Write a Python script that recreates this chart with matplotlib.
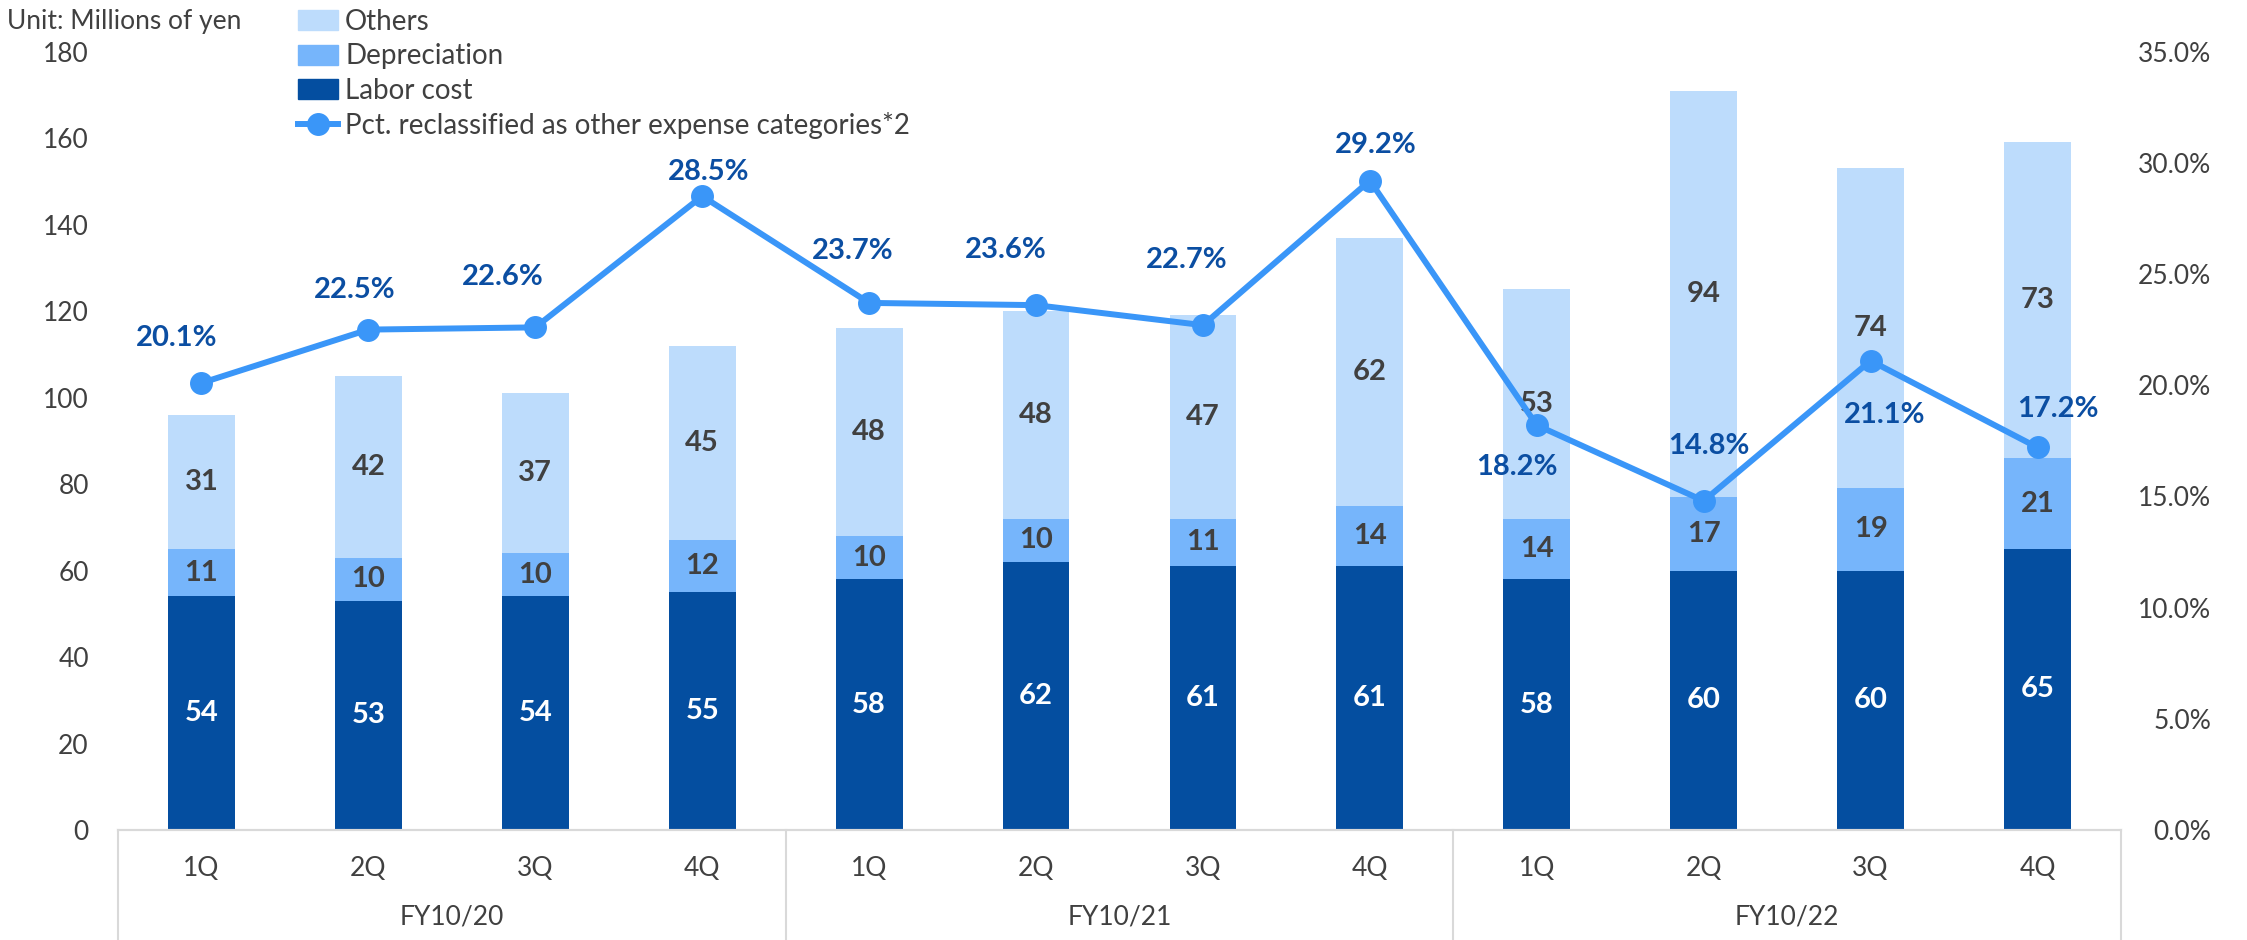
import numpy as np
import matplotlib
matplotlib.use("Agg")
import matplotlib.pyplot as plt
from matplotlib.transforms import blended_transform_factory
from matplotlib.lines import Line2D
from matplotlib.patches import Patch

plt.rcParams['font.family'] = ['Lato', 'DejaVu Sans']

quarters = ["1Q", "2Q", "3Q", "4Q"] * 3
fiscal_years = ["FY10/20", "FY10/21", "FY10/22"]
labor_cost = [54, 53, 54, 55, 58, 62, 61, 61, 58, 60, 60, 65]
depreciation = [11, 10, 10, 12, 10, 10, 11, 14, 14, 17, 19, 21]
others = [31, 42, 37, 45, 48, 48, 47, 62, 53, 94, 74, 73]
pct_reclassified = [20.1, 22.5, 22.6, 28.5, 23.7, 23.6, 22.7, 29.2, 18.2, 14.8, 21.1, 17.2]
series_names = ["Others", "Depreciation", "Labor cost",
                "Pct. reclassified as other expense categories*2"]

# where each pct label sits relative to its marker (pixels)
pct_offsets = [(-25, 45), (-14, 40), (-33, 50), (6, 24), (-16, 52), (-30, 55),
               (-16, 65), (6, 36), (-20, -42), (5, 55), (14, -54), (20, 38)]

C_LABOR = "#044EA0"
C_DEP = "#76B5FB"
C_OTHER = "#BDDCFC"
C_LINE = "#3A96F8"
C_PCT = "#0B4EA2"
C_TEXT = "#404040"
C_GRID = "#D9D9D9"

W, H = 2247, 940
fig = plt.figure(figsize=(W / 100, H / 100), dpi=100)
ax = fig.add_axes([118 / W, 110 / H, 2003 / W, 778.4 / H])

x = np.arange(len(quarters))
bw = 0.4
lab = np.array(labor_cost)
dep = np.array(depreciation)
oth = np.array(others)
b1 = ax.bar(x, lab, bw, color=C_LABOR)
b2 = ax.bar(x, dep, bw, bottom=lab, color=C_DEP)
b3 = ax.bar(x, oth, bw, bottom=lab + dep, color=C_OTHER)
ax.bar_label(b1, label_type='center', color='white', fontsize=21, fontweight='bold')
ax.bar_label(b2, label_type='center', color=C_TEXT, fontsize=21, fontweight='bold')
ax.bar_label(b3, label_type='center', color=C_TEXT, fontsize=21, fontweight='bold')

ax.set_xlim(-0.5, len(quarters) - 0.5)
ax.set_ylim(0, 180)
ax.set_yticks(np.arange(0, 181, 20))
ax.tick_params(axis='y', length=0, pad=21, labelsize=19, labelcolor=C_TEXT)
ax.set_xticks(x, quarters)
ax.tick_params(axis='x', length=0, pad=19, labelsize=19, labelcolor=C_TEXT)

ax2 = ax.twinx()
pct = np.array(pct_reclassified) / 100
ax2.plot(x, pct, color=C_LINE, lw=4.3, marker='o', ms=15.5)
for i, v in enumerate(pct_reclassified):
    dx, dy = pct_offsets[i]
    ax2.annotate(f"{v:.1f}%", (i, v / 100), xytext=(dx, dy), textcoords='offset pixels',
                 ha='center', va='center', color=C_PCT, fontsize=21, fontweight='bold')
ax2.set_ylim(0, 0.35)
ax2.set_yticks(np.arange(0, 0.351, 0.05))
ax2.set_yticklabels([f"{t * 100:.1f}%" for t in np.arange(0, 0.351, 0.05)])
ax2.tick_params(axis='y', length=0, pad=65, labelsize=19, labelcolor=C_TEXT)
for lbl in ax2.get_yticklabels():
    lbl.set_ha('right')

for a in (ax, ax2):
    for s in ('top', 'left', 'right'):
        a.spines[s].set_visible(False)
    a.spines['bottom'].set_color(C_GRID)
    a.spines['bottom'].set_linewidth(1.5)

# two-level category axis
trans = blended_transform_factory(ax.transData, ax.transAxes)
for b in [-0.5, 3.5, 7.5, 11.5]:
    ax.plot([b, b], [0, -0.2], transform=trans, color=C_GRID, lw=1.5, clip_on=False)
for g, fy in enumerate(fiscal_years):
    ax.annotate(fy, xy=(g * 4 + 1.5, 0), xycoords=trans, xytext=(0, -87),
                textcoords='offset pixels', ha='center', va='center',
                fontsize=19, color=C_TEXT)

fig.text(7 / W, 1 - 21 / H, "Unit: Millions of yen", ha='left', va='center',
         fontsize=19, color=C_TEXT)

handles = [Patch(color=C_OTHER), Patch(color=C_DEP), Patch(color=C_LABOR),
           Line2D([], [], color=C_LINE, lw=4.3, marker='o', ms=15.5)]
fig.legend(handles, series_names, loc='upper left', bbox_to_anchor=(298 / W, 1 - 9 / H),
           frameon=False, fontsize=20, handlelength=1.45, handleheight=0.72,
           handletextpad=0.25, labelspacing=0.3, borderpad=0, borderaxespad=0,
           labelcolor=C_TEXT)

fig.savefig("out.png", dpi=100)
